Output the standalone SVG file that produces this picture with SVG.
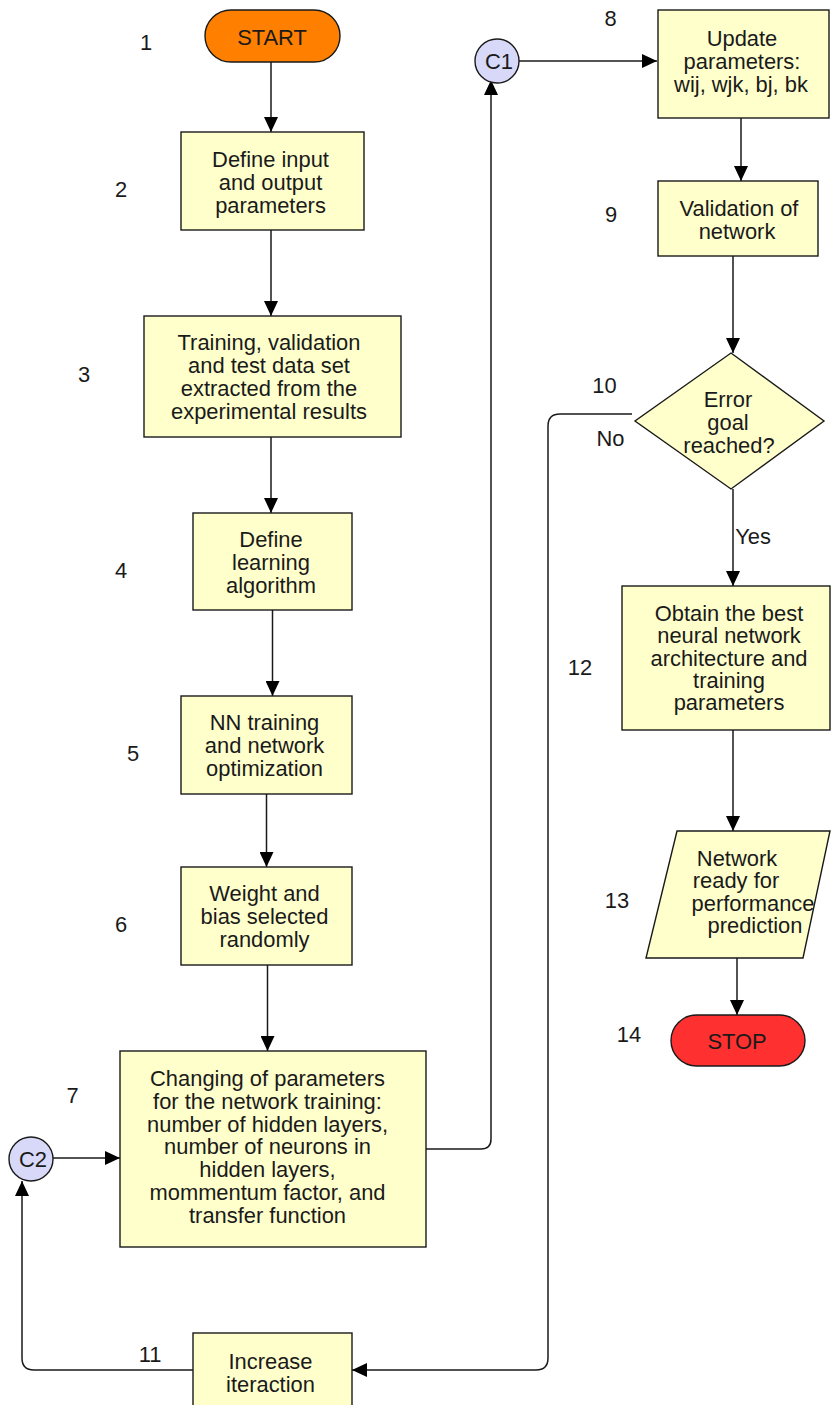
<svg xmlns="http://www.w3.org/2000/svg" width="831" height="1405" viewBox="0 0 831 1405">
  <style>
    text { font-family: "Liberation Sans", Arial, sans-serif; font-size: 21.9px; fill: #1a1a1a; }
    .c { text-anchor: middle; }
    .box { fill: #ffffcc; stroke: #1a1a1a; stroke-width: 1.4; }
    .conn { fill: #d8d8f8; stroke: #1a1a1a; stroke-width: 1.4; }
    .edge { fill: none; stroke: #1a1a1a; stroke-width: 1.5; }
  </style>
  <defs>
    <marker id="arrow" markerUnits="userSpaceOnUse" markerWidth="16" markerHeight="14" refX="15" refY="7" orient="auto">
      <path d="M0,0 L15,7 L0,14 z" fill="#000"/>
    </marker>
  </defs>
  <rect width="831" height="1405" fill="#fff"/>

  <!-- connectors -->
  <g id="connectors" class="edge" marker-end="url(#arrow)">
    <path d="M271,62 V132"/>
    <path d="M271,230 V316"/>
    <path d="M271,437 V513"/>
    <path d="M272.5,610 V696"/>
    <path d="M266.5,794 V867"/>
    <path d="M267.5,965 V1051"/>
    <path d="M53,1158 H120"/>
    <path d="M426,1149 H481 Q491,1149 491,1139 V80"/>
    <path d="M519,61 H657"/>
    <path d="M741,118 V181"/>
    <path d="M733,256 V353"/>
    <path d="M733,489 V586"/>
    <path d="M733,730 V831"/>
    <path d="M737,958 V1015"/>
    <path d="M632,414 H560 Q548,414 548,426 V1358 Q548,1370 536,1370 H352"/>
    <path d="M193,1370 H34 Q22,1370 22,1358 V1181"/>
  </g>

  <!-- step numbers and branch labels -->
  <g id="labels" class="c">
    <text x="146" y="50">1</text>
    <text x="121" y="197">2</text>
    <text x="84" y="382">3</text>
    <text x="121" y="578">4</text>
    <text x="133" y="761">5</text>
    <text x="121" y="932">6</text>
    <text x="72.5" y="1103">7</text>
    <text x="610.5" y="26">8</text>
    <text x="611" y="222">9</text>
    <text x="604.5" y="393">10</text>
    <text x="610.5" y="446">No</text>
    <text x="150" y="1362">11</text>
    <text x="580" y="675">12</text>
    <text x="617" y="908">13</text>
    <text x="629" y="1042">14</text>
    <text x="753" y="544">Yes</text>
  </g>

  <g id="n1-start">
    <rect x="205" y="10" width="135" height="52" rx="26" ry="26" fill="#ff8000" stroke="#1a1a1a" stroke-width="1.4"/>
    <text class="c" x="272" y="45">START</text>
  </g>

  <g id="n2-define-io">
    <rect class="box" x="181" y="132" width="183" height="98"/>
    <text class="c" x="270.5" y="167">Define input</text>
    <text class="c" x="270.5" y="190">and output</text>
    <text class="c" x="270.5" y="213">parameters</text>
  </g>

  <g id="n3-datasets">
    <rect class="box" x="144" y="316" width="257" height="121"/>
    <text class="c" x="269" y="350">Training, validation</text>
    <text class="c" x="269" y="373">and test data set</text>
    <text class="c" x="269" y="396">extracted from the</text>
    <text class="c" x="269" y="419">experimental results</text>
  </g>

  <g id="n4-algorithm">
    <rect class="box" x="193" y="513" width="159" height="97"/>
    <text class="c" x="271" y="547">Define</text>
    <text class="c" x="271" y="570">learning</text>
    <text class="c" x="271" y="593">algorithm</text>
  </g>

  <g id="n5-training">
    <rect class="box" x="181" y="696" width="171" height="98"/>
    <text class="c" x="264.5" y="730">NN training</text>
    <text class="c" x="264.5" y="753">and network</text>
    <text class="c" x="264.5" y="776">optimization</text>
  </g>

  <g id="n6-random-init">
    <rect class="box" x="181" y="867" width="171" height="98"/>
    <text class="c" x="264.5" y="901">Weight and</text>
    <text class="c" x="264.5" y="924">bias selected</text>
    <text class="c" x="264.5" y="947">randomly</text>
  </g>

  <g id="n7-change-params">
    <rect class="box" x="120" y="1051" width="306" height="196"/>
    <text class="c" x="267.5" y="1086">Changing of parameters</text>
    <text class="c" x="267.5" y="1109">for the network training:</text>
    <text class="c" x="267.5" y="1132">number of hidden layers,</text>
    <text class="c" x="267.5" y="1154">number of neurons in</text>
    <text class="c" x="267.5" y="1177">hidden layers,</text>
    <text class="c" x="267.5" y="1200">mommentum factor, and</text>
    <text class="c" x="267.5" y="1223">transfer function</text>
  </g>

  <g id="c2">
    <circle class="conn" cx="31" cy="1159" r="22"/>
    <text class="c" x="33" y="1167">C2</text>
  </g>

  <g id="c1">
    <circle class="conn" cx="497" cy="61" r="22"/>
    <text class="c" x="499" y="69">C1</text>
  </g>

  <g id="n8-update">
    <rect class="box" x="658" y="10" width="171" height="108"/>
    <text class="c" x="742" y="46">Update</text>
    <text class="c" x="742" y="69">parameters:</text>
    <text class="c" x="741" y="92">wij, wjk, bj, bk</text>
  </g>

  <g id="n9-validation">
    <rect class="box" x="658" y="181" width="160" height="75"/>
    <text class="c" x="739" y="216">Validation of</text>
    <text class="c" x="737" y="239">network</text>
  </g>

  <g id="n10-decision">
    <polygon class="box" points="731,353 824,421 731,489 635,421"/>
    <text class="c" x="728" y="407">Error</text>
    <text class="c" x="728" y="430">goal</text>
    <text class="c" x="729" y="453">reached?</text>
  </g>

  <g id="n11-increase">
    <rect class="box" x="193" y="1333" width="159" height="80"/>
    <text class="c" x="270.5" y="1369">Increase</text>
    <text class="c" x="270.5" y="1392">iteraction</text>
  </g>

  <g id="n12-best">
    <rect class="box" x="622" y="586" width="208" height="144"/>
    <text class="c" x="729" y="621">Obtain the best</text>
    <text class="c" x="729" y="643">neural network</text>
    <text class="c" x="729" y="666">architecture and</text>
    <text class="c" x="729" y="688">training</text>
    <text class="c" x="729" y="710">parameters</text>
  </g>

  <g id="n13-ready">
    <polygon class="box" points="677,831 830,831 803,958 646,958"/>
    <text class="c" x="737" y="866">Network</text>
    <text class="c" x="736" y="888">ready for</text>
    <text class="c" x="753" y="911">performance</text>
    <text class="c" x="755" y="933">prediction</text>
  </g>

  <g id="n14-stop">
    <rect x="671" y="1015" width="134" height="51" rx="25.5" ry="25.5" fill="#ff3030" stroke="#1a1a1a" stroke-width="1.4"/>
    <text class="c" x="737" y="1049">STOP</text>
  </g>
</svg>
